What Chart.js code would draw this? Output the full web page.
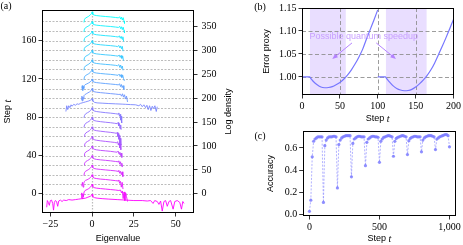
<!DOCTYPE html>
<html><head><meta charset="utf-8">
<script src="https://cdn.jsdelivr.net/npm/chart.js@4.4.0/dist/chart.umd.min.js"></script>
<style>
html,body{margin:0;padding:0;background:#fff;}
#wrap{position:relative;width:463px;height:245px;overflow:hidden;background:#fff;}
canvas{position:absolute;left:0;top:0;}
</style></head><body>
<div id="wrap">
<canvas id="ca" width="463" height="245"></canvas>
<canvas id="cb" width="463" height="245"></canvas>
<canvas id="cc" width="463" height="245"></canvas>
</div>
<script>
// ---------------- DATA ----------------
// Panel (a): stacked log-density spectra; values are [eigenvalue, height relative to the step level]
const eigTicks = [-25, 0, 25, 50];
const stepTicks = [0, 40, 80, 120, 160];
const densityTicks = [0, 50, 100, 150, 200, 250, 300, 350];
const gridSteps = [0,10,20,30,40,50,60,70,80,90,100,110,120,130,140,150,160,170,180];
const spectrumSteps = [0,10,20,30,40,50,60,70,80,90,100,110,120,130,140,150,160,170,180,190];
const spectrumCurves = [
 // step 0 (wide)
 [[-27.2,-14],[-26.8,-7],[-26.2,-9],[-25.6,-12],[-25,-7],[-24.3,-6.5],[-23.6,-10],[-23.1,-17],[-22.6,-9],[-22,-7],[-21.3,-8],[-20.6,-13],[-20,-7.5],[-19,-6.5],[-18,-8],[-17,-6.5],[-15.5,-7],[-14,-6],[-12,-6.5],[-10,-6],[-8,-5.5],[-6,-5],[-4,-4.5],[-2.5,-3.5],[-1,-2.5],[-0.3,-1.5],[0,-0.5],[0.4,-3],[1.5,-4],[3,-4.5],[6,-5],[10,-5.5],[15,-6],[20,-6.5],[25,-7],[30,-7],[33,-7.5],[35,-7],[36.5,-10],[37.5,-7],[39,-8],[40,-11],[41,-7.5],[42,-18],[43,-8],[44,-7],[45,-13],[46,-8],[47,-7],[48.5,-16],[49.5,-8],[51,-7],[52.5,-9],[53.5,-16],[54.3,-8],[55,-10]],
 // step 10
 [[-6.6,-14],[-6.2,-9],[-5.9,-15],[-5.5,-10],[-5.2,-13],[-4.8,-8],[-4.2,-6.5],[-3,-5.5],[-2,-4.5],[-1,-3],[-0.3,-1.5],[0,0],[0.4,-2.5],[1.2,-3.5],[2.5,-4],[5,-4.5],[8,-5],[11,-5.5],[14,-6],[16,-6.5],[17,-6],[17.6,-9],[18.1,-7],[18.6,-15],[19.1,-8],[19.6,-17],[20.1,-9],[20.6,-13],[21.2,-18]],
 // step 20
 [[-6.2,-12],[-5.8,-8],[-5.4,-13],[-5,-9],[-4.6,-7],[-4,-6],[-3,-5.3],[-2,-4.3],[-1,-3],[-0.3,-1.5],[0,0],[0.4,-2.5],[1.2,-3.5],[2.5,-4],[5,-4.6],[8,-5],[11,-5.6],[14,-6.2],[15.5,-6.5],[16,-5.5],[16.5,-9],[17,-7],[17.5,-13],[18,-8],[18.5,-15]],
 // step 30
 [[-4.9,-11],[-4.6,-8],[-4,-6.5],[-3,-5.5],[-2,-4.5],[-1,-3],[-0.3,-1.5],[0,0],[0.4,-2.5],[1.2,-3.5],[2.5,-4],[5,-4.5],[8,-5],[11,-5.5],[14,-6],[15.5,-6.5],[16,-5.5],[16.5,-8.5],[17,-6.5],[17.5,-10],[18,-7],[18.4,-12]],
 // step 40
 [[-4.8,-10],[-4.5,-8],[-3.8,-6.3],[-2.8,-5.3],[-1.8,-4.3],[-1,-3],[-0.3,-1.5],[0,0],[0.4,-2.5],[1.2,-3.4],[2.5,-4],[5,-4.5],[8,-5],[11,-5.5],[14,-6.2],[15.5,-6.5],[16,-5.5],[16.5,-9],[17,-6.5],[17.4,-11],[17.8,-8],[18.2,-12]],
 // step 50
 [[-4.8,-10.5],[-4.5,-8],[-3.8,-6.3],[-2.8,-5.3],[-1.8,-4.3],[-1,-3],[-0.3,-1.5],[0,0],[0.4,-2.5],[1.2,-3.4],[2.5,-4],[5,-4.6],[8,-5.1],[11,-5.6],[13.5,-6.2],[15,-6.5],[15.6,-5.3],[16.1,-8.5],[16.6,-6.5],[17,-10],[17.4,-7.5],[17.8,-12]],
 // step 60
 [[-4.8,-10],[-4.4,-8],[-3.7,-6.3],[-2.7,-5.2],[-1.7,-4.2],[-1,-3],[-0.3,-1.5],[0,0],[0.4,-2.5],[1.2,-3.4],[2.5,-4],[5,-4.6],[8,-5.2],[11,-5.8],[13.5,-6.3],[14.8,-6.8],[15.3,-5.5],[15.7,-9],[16.1,-7],[16.5,-12],[16.9,-8],[17.2,-14]],
 // step 70
 [[-4.8,-10],[-4.4,-8],[-3.7,-6.3],[-2.7,-5.2],[-1.7,-4.2],[-1,-3],[-0.3,-1.5],[0,0],[0.4,-2.5],[1.2,-3.4],[2.5,-4],[5,-4.6],[8,-5.2],[11,-5.8],[13.5,-6.4],[14.6,-6.8],[15,-5.8],[15.4,-10],[15.7,-7],[16,-13],[16.3,-9],[16.6,-17],[16.9,-12],[17.2,-19]],
 // step 80
 [[-4.9,-10.5],[-4.5,-8],[-3.8,-6.3],[-2.8,-5.3],[-1.8,-4.3],[-1,-3],[-0.3,-1.5],[0,0],[0.4,-2.5],[1.2,-3.4],[2.5,-4],[5,-4.6],[8,-5.2],[11,-5.7],[13.5,-6.3],[15,-6.7],[15.5,-5.5],[15.9,-9],[16.3,-6.5],[16.7,-12],[17.1,-8],[17.4,-13]],
 // step 90
 [[-4.9,-10.5],[-4.5,-8],[-3.8,-6.3],[-2.8,-5.3],[-1.8,-4.3],[-1,-3],[-0.3,-1.5],[0,0],[0.4,-2.5],[1.2,-3.4],[2.5,-4],[5,-4.6],[8,-5.2],[11,-5.7],[14,-6.3],[15.5,-6.7],[16,-5.5],[16.4,-9],[16.8,-7],[17.1,-13],[17.4,-9],[17.7,-16]],
 // step 100 (wide)
 [[-15.7,-14],[-15.2,-8],[-14.6,-12],[-14,-8],[-13.3,-10],[-12.6,-7],[-12,-8.5],[-11,-6.5],[-10,-7.5],[-9,-6],[-8,-6.5],[-7,-5.5],[-6,-5],[-5,-4.5],[-4,-4],[-3,-3.5],[-2,-3],[-1,-2.2],[-0.3,-1.5],[0,-0.5],[0.4,-3],[1.5,-4.5],[3,-5],[6,-5.3],[10,-5.7],[14,-6],[18,-6.3],[20,-6.5],[23,-6.8],[26,-7],[28,-8],[29,-6.5],[30,-9],[31,-7],[32,-10],[32.8,-7.5],[33.6,-12],[34.4,-8],[35.2,-13],[36,-8.5],[36.8,-11],[37.6,-8],[38.4,-14],[39,-9]],
 // step 110
 [[-6.4,-12],[-6.1,-8],[-5.8,-13],[-5.5,-9],[-5.2,-11],[-4.9,-7.5],[-4.4,-6.5],[-3.5,-5.5],[-2.5,-4.5],[-1.5,-3.5],[-0.5,-2],[0,0],[0.4,-2.5],[1.2,-3.3],[2.5,-3.8],[5,-4.3],[8,-4.8],[11,-5.3],[14,-5.8],[16,-6.2],[17,-6],[17.6,-8],[18.2,-5.5],[18.8,-9],[19.4,-6.5],[20,-11],[20.6,-8],[21.2,-14]],
 // step 120
 [[-6.2,-10],[-5.9,-7],[-5.6,-12],[-5.3,-8],[-5,-10],[-4.7,-7],[-4.2,-6],[-3.2,-5.2],[-2.2,-4.3],[-1.2,-3.2],[-0.4,-1.8],[0,0],[0.4,-2.5],[1.2,-3.3],[2.5,-3.8],[5,-4.3],[8,-4.8],[11,-5.3],[14,-5.8],[15.8,-6.2],[16.4,-5],[17,-8],[17.5,-5.8],[18,-9],[18.5,-7],[19,-11]],
 // step 130
 [[-4.9,-11],[-4.6,-8],[-4,-6.5],[-3,-5.5],[-2,-4.5],[-1,-3],[-0.3,-1.5],[0,0],[0.4,-2.5],[1.2,-3.3],[2.5,-3.8],[5,-4.3],[8,-4.8],[11,-5.2],[14,-5.8],[15.5,-6.2],[16.2,-5],[16.8,-7.5],[17.3,-5.5],[17.8,-8.5],[18.3,-6],[18.8,-9.5],[19.3,-12]],
 // step 140
 [[-4.9,-11],[-4.6,-8],[-4,-6.5],[-3,-5.5],[-2,-4.5],[-1,-3],[-0.3,-1.5],[0,0],[0.4,-2.5],[1.2,-3.3],[2.5,-3.8],[5,-4.3],[8,-4.8],[11,-5.2],[14,-5.8],[15.3,-6.2],[16,-5],[16.6,-8],[17.1,-5.5],[17.6,-9],[18.1,-6.5],[18.5,-11]],
 // step 150
 [[-4.9,-11],[-4.6,-8],[-4,-6.5],[-3,-5.5],[-2,-4.5],[-1,-3],[-0.3,-1.5],[0,0],[0.4,-2.5],[1.2,-3.3],[2.5,-3.8],[5,-4.3],[8,-4.8],[11,-5.2],[14,-5.8],[15.5,-6.2],[16.2,-5],[16.8,-7.5],[17.3,-5.5],[17.8,-8.5],[18.3,-6],[18.8,-11]],
 // step 160
 [[-4.9,-11],[-4.6,-8],[-4,-6.5],[-3,-5.5],[-2,-4.5],[-1,-3],[-0.3,-1.5],[0,0],[0.4,-2.5],[1.2,-3.3],[2.5,-3.8],[5,-4.3],[8,-4.8],[11,-5.2],[14,-5.8],[15.3,-6.2],[16,-5],[16.6,-7.5],[17.1,-5.5],[17.6,-8.5],[18.1,-6],[18.5,-11]],
 // step 170
 [[-4.9,-11],[-4.6,-8],[-4,-6.5],[-3,-5.5],[-2,-4.5],[-1,-3],[-0.3,-1.5],[0,0],[0.4,-2.5],[1.2,-3.3],[2.5,-3.8],[5,-4.3],[8,-4.8],[11,-5.2],[14,-5.8],[15.6,-6.2],[16.3,-5],[16.9,-7.5],[17.4,-5.5],[17.9,-8.5],[18.4,-6],[18.9,-11]],
 // step 180
 [[-4.9,-11],[-4.6,-8],[-4,-6.5],[-3,-5.5],[-2,-4.5],[-1,-3],[-0.3,-1.5],[0,0],[0.4,-2.5],[1.2,-3.3],[2.5,-3.8],[5,-4.3],[8,-4.8],[11,-5.2],[14,-5.8],[15.8,-6.2],[16.5,-5],[17.1,-7.5],[17.6,-5.5],[18.1,-8.5],[18.6,-6],[19.1,-9.5],[19.4,-12]],
 // step 190
 [[-4.9,-11],[-4.6,-8],[-4,-6.5],[-3,-5.5],[-2,-4.5],[-1,-3],[-0.3,-1.5],[0,0],[0.4,-2.5],[1.2,-3.3],[2.5,-3.8],[5,-4.3],[8,-4.8],[11,-5.2],[14,-5.8],[15.8,-6.2],[16.5,-5],[17.1,-7.5],[17.6,-5.5],[18.1,-8.5],[18.6,-6],[19.1,-9.5],[19.4,-12]]
];

// Panel (b): error proxy
const errStepsA = [0,5,10,12,15,20,25,30,35,40,45,50,55,60,65,70,75,80,85,90,95,100];
const errValsA  = [1.0,1.0,1.0,0.996,0.99,0.983,0.978,0.9765,0.977,0.979,0.983,0.988,0.995,1.004,1.015,1.028,1.043,1.06,1.082,1.103,1.124,1.146];
const errStepsB = [100,105,110,112,115,120,125,130,135,140,145,150,155,160,165,170,175,180,185,190,195,200];
const errValsB  = [1.0,1.0,1.0,0.996,0.99,0.981,0.975,0.9715,0.97,0.9705,0.973,0.978,0.985,0.993,1.003,1.015,1.03,1.048,1.066,1.085,1.105,1.125];
const speedupSpans = [[10.5, 57.8], [110.8, 164.5]];
const errXTicks = [0, 50, 100, 150, 200];
const errYTicks = [1.00, 1.05, 1.10, 1.15];
const errRefX = [50, 100, 150];
const errRefY = [1.00, 1.05, 1.10];

// Panel (c): accuracy every 10 steps
const accSteps = [];
for (let s = 0; s <= 1000; s += 10) accSteps.push(s);
const accVals = [
 0.03,0.13,0.52,0.66,0.68,0.69,0.70,0.70,0.70,0.70,
 0.11,0.62,0.67,0.69,0.70,0.70,0.70,0.705,0.705,0.70,
 0.24,0.63,0.67,0.69,0.70,0.705,0.71,0.71,0.71,0.71,
 0.34,0.64,0.68,0.69,0.70,0.705,0.705,0.70,0.70,0.70,
 0.44,0.65,0.68,0.69,0.70,0.705,0.705,0.70,0.70,0.695,
 0.47,0.66,0.68,0.695,0.70,0.705,0.71,0.71,0.705,0.70,
 0.525,0.66,0.685,0.695,0.70,0.705,0.71,0.71,0.705,0.70,
 0.54,0.665,0.685,0.695,0.70,0.705,0.705,0.70,0.70,0.70,
 0.565,0.67,0.69,0.70,0.705,0.71,0.71,0.71,0.705,0.70,
 0.585,0.68,0.69,0.70,0.705,0.71,0.715,0.72,0.72,0.71,
 0.61
];
const accXTicks = [0, 500, 1000];
const accYTicks = [0.0, 0.2, 0.4, 0.6];

// ---------------- STYLE / HELPERS ----------------
Chart.defaults.devicePixelRatio = 1;
const TICK_FONT = {family: 'Liberation Serif', size: 10};
const SANS = '9px "Liberation Sans"';
const ITAL = 'italic 10px "Liberation Serif"';
const fixedTicks = vals => s => { s.ticks = vals.map(v => ({value: v})); };
const minusFmt = v => (v < 0 ? '\u2212' + Math.abs(v) : String(v));

function axis(opts) {
  return Object.assign({
    type: 'linear',
    grid: {display: true, drawOnChartArea: false, drawTicks: true, tickLength: 3.5, color: '#000', lineWidth: 0.8},
    border: {display: false},
    ticks: {font: TICK_FONT, color: '#000', padding: 2, maxRotation: 0, autoSkip: false}
  }, opts);
}

function drawMixed(ctx, parts, cx, cy, rot) {
  ctx.save();
  ctx.translate(cx, cy);
  if (rot) ctx.rotate(-Math.PI / 2);
  let total = 0;
  for (const p of parts) { ctx.font = p.font; p.w = ctx.measureText(p.text).width; total += p.w; }
  let x = -total / 2;
  ctx.textBaseline = 'middle'; ctx.textAlign = 'left'; ctx.fillStyle = '#000';
  for (const p of parts) { ctx.font = p.font; ctx.fillText(p.text, x, 0); x += p.w; }
  ctx.restore();
}
function frame(chart) {
  const {ctx, chartArea: a} = chart;
  ctx.save();
  ctx.strokeStyle = '#000'; ctx.lineWidth = 1;
  ctx.strokeRect(Math.round(a.left) + 0.5, Math.round(a.top) + 0.5, Math.round(a.right - a.left) - 1, Math.round(a.bottom - a.top) - 1);
  ctx.restore();
}
const stepLabel = [{text: 'Step ', font: SANS}, {text: 't', font: ITAL}];
function coolRev(t) {
  const f = t / 190;
  return `rgba(${Math.round(255 * (1 - f))},${Math.round(255 * f)},255,0.9)`;
}

// ---------------- PANEL (a) ----------------
const dsA = spectrumCurves.map((pts, i) => ({
  data: pts.map(p => ({x: p[0], y: spectrumSteps[i] + p[1]})),
  borderColor: coolRev(spectrumSteps[i]),
  borderWidth: 1, pointRadius: 0, tension: 0, fill: false, xAxisID: 'x', yAxisID: 'y'
}));
new Chart(document.getElementById('ca'), {
  type: 'line',
  data: {datasets: dsA},
  options: {
    responsive: false, animation: false, parsing: false,
    layout: {padding: {left: 0, right: 223, top: 1, bottom: 0}},
    plugins: {legend: {display: false}, tooltip: {enabled: false}},
    scales: {
      x: axis({min: -30, max: 61, afterBuildTicks: fixedTicks(eigTicks), afterFit: s => { s.height = 32; },
        ticks: Object.assign({}, axis({}).ticks, {callback: v => minusFmt(v)})}),
      y: axis({position: 'left', min: -20, max: 192, afterBuildTicks: fixedTicks(stepTicks), afterFit: s => { s.width = 42; }}),
      y2: axis({position: 'right', min: -40, max: 384, afterBuildTicks: fixedTicks(densityTicks), afterFit: s => { s.width = 46; },
        ticks: Object.assign({}, axis({}).ticks, {padding: 4})})
    }
  },
  plugins: [{
    id: 'decorA',
    beforeDatasetsDraw(chart) {
      const {ctx, chartArea: a, scales: {x, y}} = chart;
      ctx.save();
      ctx.strokeStyle = 'rgba(150,150,150,0.8)'; ctx.lineWidth = 0.8; ctx.setLineDash([2, 1.5]);
      for (const s of gridSteps) {
        const py = Math.round(y.getPixelForValue(s)) + 0.5;
        ctx.beginPath(); ctx.moveTo(a.left, py); ctx.lineTo(a.right, py); ctx.stroke();
      }
      const px = Math.round(x.getPixelForValue(0)) + 0.5;
      ctx.strokeStyle = 'rgba(170,170,170,0.8)'; ctx.lineWidth = 1.2; ctx.setLineDash([1.5, 1.5]);
      ctx.beginPath(); ctx.moveTo(px, a.top); ctx.lineTo(px, a.bottom); ctx.stroke();
      ctx.restore();
    },
    afterDraw(chart) {
      frame(chart);
      const {ctx, chartArea: a} = chart;
      drawMixed(ctx, stepLabel, 8, (a.top + a.bottom) / 2, true);
      drawMixed(ctx, [{text: 'Log density', font: SANS}], 229, (a.top + a.bottom) / 2, true);
      drawMixed(ctx, [{text: 'Eigenvalue', font: SANS}], (a.left + a.right) / 2, 239, false);
      drawMixed(ctx, [{text: '(a)', font: '10px "Liberation Serif"'}], 6, 6, false);
    }
  }]
});

// ---------------- PANEL (b) ----------------
const lineB = 'rgb(118,118,255)';
new Chart(document.getElementById('cb'), {
  type: 'line',
  data: {datasets: [
    {data: errStepsA.map((s, i) => ({x: s, y: errValsA[i]})), borderColor: lineB, borderWidth: 1.2, pointRadius: 0, tension: 0.3, fill: false},
    {data: errStepsB.map((s, i) => ({x: s, y: errValsB[i]})), borderColor: lineB, borderWidth: 1.2, pointRadius: 0, tension: 0.3, fill: false}
  ]},
  options: {
    responsive: false, animation: false, parsing: false,
    layout: {padding: {left: 262, right: 6.3, top: 3, bottom: 120}},
    plugins: {legend: {display: false}, tooltip: {enabled: false}},
    scales: {
      x: axis({min: 0, max: 200, afterBuildTicks: fixedTicks(errXTicks), afterFit: s => { s.height = 30; }}),
      y: axis({min: 0.9607, max: 1.15, afterBuildTicks: fixedTicks(errYTicks), afterFit: s => { s.width = 40; },
        ticks: Object.assign({}, axis({}).ticks, {callback: v => v.toFixed(2)})})
    }
  },
  plugins: [{
    id: 'decorB',
    beforeDatasetsDraw(chart) {
      const {ctx, chartArea: a, scales: {x, y}} = chart;
      ctx.save();
      ctx.fillStyle = 'rgb(233,222,255)';
      for (const [s0, s1] of speedupSpans) {
        const x0 = x.getPixelForValue(s0), x1 = x.getPixelForValue(s1);
        ctx.fillRect(x0, a.top, x1 - x0, a.bottom - a.top);
      }
      ctx.strokeStyle = 'rgba(140,140,140,0.85)'; ctx.lineWidth = 1; ctx.setLineDash([4, 2.5]);
      for (const v of errRefX) {
        const px = Math.round(x.getPixelForValue(v)) + 0.5;
        ctx.beginPath(); ctx.moveTo(px, a.top); ctx.lineTo(px, a.bottom); ctx.stroke();
      }
      for (const v of errRefY) {
        const py = Math.round(y.getPixelForValue(v)) + 0.5;
        ctx.beginPath(); ctx.moveTo(a.left, py); ctx.lineTo(a.right, py); ctx.stroke();
      }
      ctx.restore();
    },
    afterDatasetsDraw(chart) {
      const {ctx, scales: {x, y}} = chart;
      ctx.save();
      ctx.fillStyle = 'rgb(200,160,255)'; ctx.font = SANS; ctx.textAlign = 'center'; ctx.textBaseline = 'middle';
      ctx.fillText('Possible quantum speedup', x.getPixelForValue(81.5), y.getPixelForValue(1.088));
      const arrows = [[66, 1.074, 40, 1.039], [98, 1.074, 124, 1.039]];
      ctx.strokeStyle = 'rgb(180,130,255)'; ctx.fillStyle = 'rgb(180,130,255)'; ctx.lineWidth = 1;
      for (const [sx, sy, ex, ey] of arrows) {
        const x0 = x.getPixelForValue(sx), y0 = y.getPixelForValue(sy);
        const x1 = x.getPixelForValue(ex), y1 = y.getPixelForValue(ey);
        const ang = Math.atan2(y1 - y0, x1 - x0);
        ctx.beginPath(); ctx.moveTo(x0, y0); ctx.lineTo(x1 - 4 * Math.cos(ang), y1 - 4 * Math.sin(ang)); ctx.stroke();
        ctx.beginPath();
        ctx.moveTo(x1, y1);
        ctx.lineTo(x1 - 6 * Math.cos(ang - 0.4), y1 - 6 * Math.sin(ang - 0.4));
        ctx.lineTo(x1 - 6 * Math.cos(ang + 0.4), y1 - 6 * Math.sin(ang + 0.4));
        ctx.closePath(); ctx.fill();
      }
      ctx.restore();
    },
    afterDraw(chart) {
      frame(chart);
      const {ctx, chartArea: a} = chart;
      drawMixed(ctx, [{text: 'Error proxy', font: SANS}], 267, (a.top + a.bottom) / 2, true);
      drawMixed(ctx, stepLabel, (a.left + a.right) / 2, 119, false);
      drawMixed(ctx, [{text: '(b)', font: '10px "Liberation Serif"'}], 260, 7, false);
    }
  }]
});

// ---------------- PANEL (c) ----------------
new Chart(document.getElementById('cc'), {
  type: 'line',
  data: {datasets: [{
    data: accSteps.map((s, i) => ({x: s, y: accVals[i]})),
    borderColor: 'rgba(140,140,255,0.75)', borderWidth: 0.9, borderDash: [2, 1.5],
    pointRadius: 1.6, pointBackgroundColor: 'rgba(125,125,255,0.85)', pointBorderWidth: 0,
    tension: 0, fill: false
  }]},
  options: {
    responsive: false, animation: false, parsing: false,
    layout: {padding: {left: 262.7, right: 6.3, top: 131, bottom: 0}},
    plugins: {legend: {display: false}, tooltip: {enabled: false}},
    scales: {
      x: axis({min: -48, max: 1048, afterBuildTicks: fixedTicks(accXTicks), afterFit: s => { s.height = 29; }}),
      y: axis({min: -0.012, max: 0.752, afterBuildTicks: fixedTicks(accYTicks), afterFit: s => { s.width = 40; },
        ticks: Object.assign({}, axis({}).ticks, {callback: v => v.toFixed(1)})})
    }
  },
  plugins: [{
    id: 'decorC',
    afterDraw(chart) {
      frame(chart);
      const {ctx, chartArea: a} = chart;
      drawMixed(ctx, [{text: 'Accuracy', font: SANS}], 271, (a.top + a.bottom) / 2, true);
      drawMixed(ctx, stepLabel, (a.left + a.right) / 2, 239, false);
      drawMixed(ctx, [{text: '(c)', font: '10px "Liberation Serif"'}], 260, 136, false);
    }
  }]
});
</script>
</body></html>
